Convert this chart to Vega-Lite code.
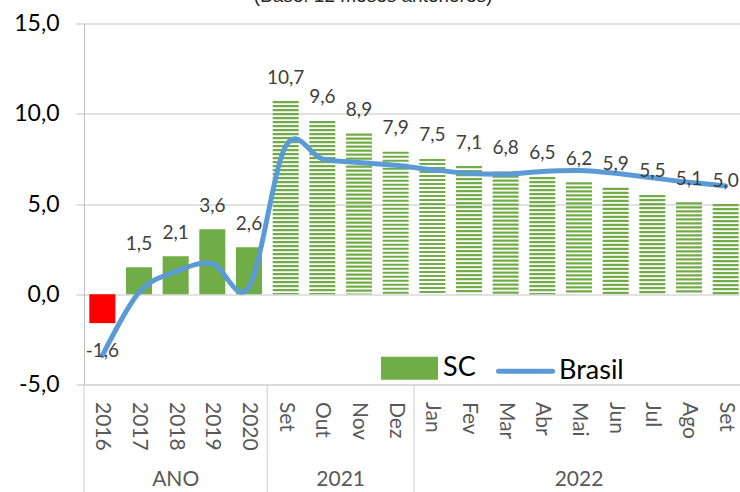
{
  "$schema": "https://vega.github.io/schema/vega-lite/v6.json",
  "autosize": {"type": "none"},
  "width": 656,
  "height": 361,
  "padding": {"left": 84, "top": 23.5, "right": 0, "bottom": 107.5},
  "background": "white",
  "title": {"text": "(Base: 12 meses anteriores)", "font": "Liberation Sans", "fontSize": 19, "fontWeight": "normal", "color": "#262626", "anchor": "middle", "dx": -39, "dy": 12, "offset": 4, "baseline": "alphabetic"},
  "datasets": {
    "dados": [
      {"periodo": "2016|ANO", "tipo": "anual", "sc": -1.6, "brasil": -3.4},
      {"periodo": "2017|ANO", "tipo": "anual", "sc": 1.5, "brasil": 0.1},
      {"periodo": "2018|ANO", "tipo": "anual", "sc": 2.1, "brasil": 1.25},
      {"periodo": "2019|ANO", "tipo": "anual", "sc": 3.6, "brasil": 1.7},
      {"periodo": "2020|ANO", "tipo": "anual", "sc": 2.6, "brasil": 0.4},
      {"periodo": "Set|2021", "tipo": "mensal", "sc": 10.7, "brasil": 8.2},
      {"periodo": "Out|2021", "tipo": "mensal", "sc": 9.6, "brasil": 7.5},
      {"periodo": "Nov|2021", "tipo": "mensal", "sc": 8.9, "brasil": 7.3},
      {"periodo": "Dez|2021", "tipo": "mensal", "sc": 7.9, "brasil": 7.15},
      {"periodo": "Jan|2022", "tipo": "mensal", "sc": 7.5, "brasil": 6.9},
      {"periodo": "Fev|2022", "tipo": "mensal", "sc": 7.1, "brasil": 6.7},
      {"periodo": "Mar|2022", "tipo": "mensal", "sc": 6.8, "brasil": 6.65},
      {"periodo": "Abr|2022", "tipo": "mensal", "sc": 6.5, "brasil": 6.8},
      {"periodo": "Mai|2022", "tipo": "mensal", "sc": 6.2, "brasil": 6.85},
      {"periodo": "Jun|2022", "tipo": "mensal", "sc": 5.9, "brasil": 6.7},
      {"periodo": "Jul|2022", "tipo": "mensal", "sc": 5.5, "brasil": 6.45},
      {"periodo": "Ago|2022", "tipo": "mensal", "sc": 5.1, "brasil": 6.2},
      {"periodo": "Set|2022", "tipo": "mensal", "sc": 5.0, "brasil": 6.0}
    ],
    "grupos": [
      {"periodo": "2018|ANO", "grupo": "ANO"},
      {"periodo": "Nov|2021", "grupo": "2021"},
      {"periodo": "Mai|2022", "grupo": "2022"}
    ],
    "divisas": [
      {"periodo": "2016|ANO"},
      {"periodo": "Set|2021"},
      {"periodo": "Jan|2022"}
    ]
  },
  "data": {"name": "dados"},
  "encoding": {
    "x": {
      "field": "periodo", "type": "nominal", "sort": null,
      "scale": {
        "domain": ["2016|ANO", "2017|ANO", "2018|ANO", "2019|ANO", "2020|ANO", "Set|2021", "Out|2021", "Nov|2021", "Dez|2021", "Jan|2022", "Fev|2022", "Mar|2022", "Abr|2022", "Mai|2022", "Jun|2022", "Jul|2022", "Ago|2022", "Set|2022"],
        "range": [0, 660], "paddingInner": 0, "paddingOuter": 0
      },
      "axis": {
        "title": null, "labelExpr": "split(datum.label, '|')[0]", "labelAngle": 90,
        "labelFont": "Lato", "labelFontSize": 21, "labelColor": "#595959", "labelPadding": 17,
        "ticks": false, "grid": false, "domainColor": "#d9d9d9", "domainWidth": 1.3, "labelOverlap": false
      }
    }
  },
  "layer": [
    {
      "transform": [{"filter": "datum.tipo === 'anual' && datum.sc >= 0"}],
      "mark": {"type": "bar", "width": {"band": 0.71}},
      "encoding": {
        "y": {
          "field": "sc", "type": "quantitative",
          "scale": {"domain": [-5, 15], "nice": false, "zero": false},
          "axis": {
            "title": null, "values": [-5, 0, 5, 10, 15], "format": ".1f",
            "grid": true, "gridColor": "#d9d9d9", "gridWidth": 1.3,
            "domainColor": "#bfbfbf", "tickColor": "#bfbfbf", "tickSize": 8,
            "labelFont": "Lato", "labelFontSize": 23, "labelColor": "#000000", "labelPadding": 17
          }
        },
        "y2": {"datum": 0},
        "color": {
          "datum": "SC",
          "scale": {"domain": ["SC", "Brasil"], "range": ["#70AD47", "#5B9BD5"]},
          "legend": {
            "orient": "none", "legendX": 297, "legendY": 316, "direction": "horizontal",
            "title": null, "symbolSize": 2704, "labelFont": "Lato", "labelFontSize": 27,
            "labelColor": "#000000", "labelOffset": 5, "columnPadding": 12, "padding": 0,
            "encode": {
              "symbols": {
                "update": {
                  "shape": {"signal": "datum.value === 'SC' ? 'M-1,-0.346H1V0.346H-1Z' : 'M-1.04,0H1.04'"},
                  "fill": {"signal": "datum.value === 'SC' ? '#70AD47' : 'transparent'"},
                  "stroke": {"signal": "datum.value === 'SC' ? 'transparent' : '#5B9BD5'"},
                  "strokeWidth": {"value": 5},
                  "strokeCap": {"value": "round"},
                  "opacity": {"value": 1}
                }
              }
            }
          }
        }
      }
    },
    {
      "transform": [{"filter": "datum.sc < 0"}],
      "mark": {"type": "bar", "width": {"band": 0.71}, "color": "#FF0000"},
      "encoding": {
        "y": {"field": "sc", "type": "quantitative"},
        "y2": {"datum": 0}
      }
    },
    {
      "transform": [{"filter": "datum.tipo === 'mensal'"}],
      "mark": {"type": "rule", "strokeWidth": 26, "strokeDash": [2.2, 1.8], "color": "#70AD47", "strokeCap": "butt"},
      "encoding": {
        "y": {"field": "sc", "type": "quantitative"},
        "y2": {"datum": 0}
      }
    },
    {
      "mark": {"type": "line", "interpolate": "cardinal", "strokeWidth": 5, "strokeCap": "round", "strokeJoin": "round"},
      "encoding": {
        "y": {"field": "brasil", "type": "quantitative"},
        "color": {"datum": "Brasil"}
      }
    },
    {
      "transform": [{"filter": "datum.sc >= 0"}],
      "mark": {"type": "text", "font": "Lato", "fontSize": 19, "color": "#404040", "baseline": "alphabetic", "dy": -17.5},
      "encoding": {
        "y": {"field": "sc", "type": "quantitative"},
        "text": {"field": "sc", "type": "quantitative", "format": ".1f"}
      }
    },
    {
      "transform": [{"filter": "datum.sc < 0"}],
      "mark": {"type": "text", "font": "Lato", "fontSize": 19, "color": "#404040", "baseline": "alphabetic", "dy": 34},
      "encoding": {
        "y": {"field": "sc", "type": "quantitative"},
        "text": {"field": "sc", "type": "quantitative", "format": ".1f"}
      }
    },
    {
      "data": {"name": "divisas"},
      "mark": {"type": "rule", "color": "#d9d9d9", "strokeWidth": 1.3},
      "encoding": {
        "x": {"field": "periodo", "type": "nominal", "bandPosition": 0},
        "y": {"datum": -5},
        "y2": {"datum": -12}
      }
    },
    {
      "data": {"name": "grupos"},
      "transform": [{"filter": "datum.grupo !== '2021'"}],
      "mark": {"type": "text", "font": "Lato", "fontSize": 21, "color": "#595959", "baseline": "middle"},
      "encoding": {
        "x": {"field": "periodo", "type": "nominal", "bandPosition": 0.5},
        "y": {"datum": -10.3},
        "text": {"field": "grupo"}
      }
    },
    {
      "data": {"name": "grupos"},
      "transform": [{"filter": "datum.grupo === '2021'"}],
      "mark": {"type": "text", "font": "Lato", "fontSize": 21, "color": "#595959", "baseline": "middle"},
      "encoding": {
        "x": {"field": "periodo", "type": "nominal", "bandPosition": 0},
        "y": {"datum": -10.3},
        "text": {"field": "grupo"}
      }
    }
  ],
  "config": {
    "view": {"stroke": null},
    "font": "Lato",
    "locale": {"number": {"decimal": ",", "thousands": ".", "grouping": [3], "currency": ["R$", ""], "minus": "-"}}
  }
}
